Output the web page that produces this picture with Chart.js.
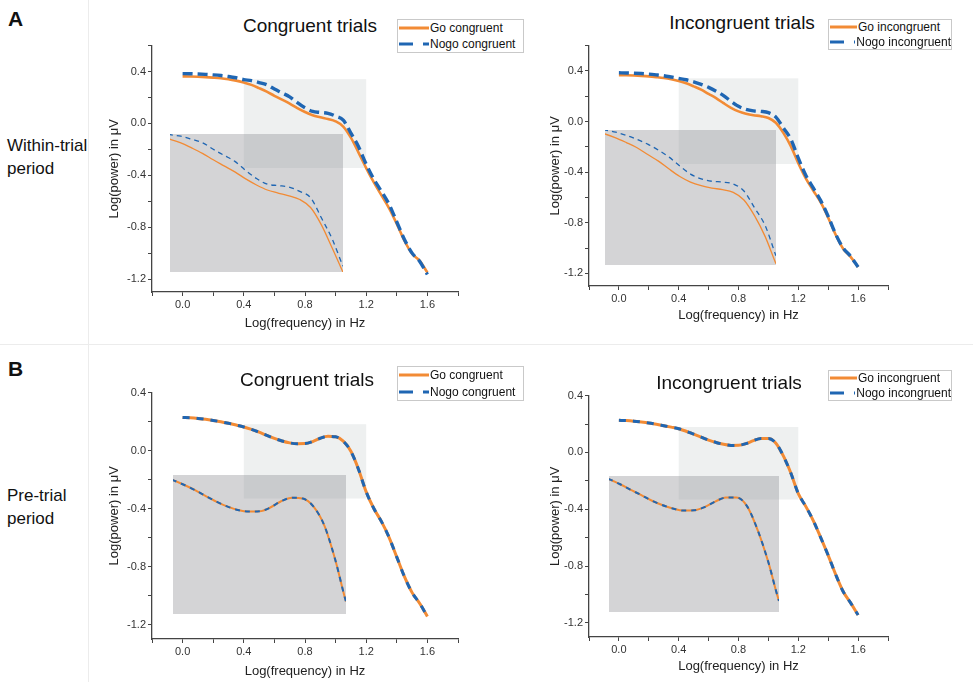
<!DOCTYPE html>
<html>
<head>
<meta charset="utf-8">
<script src="https://cdn.jsdelivr.net/npm/chart.js@4.4.1/dist/chart.umd.min.js"></script>
<style>
body { margin:0; width:973px; height:682px; overflow:hidden; background:#fff; font-family:"Liberation Sans", Arial, sans-serif; color:#111; }
#fig { position:relative; width:973px; height:682px; }
canvas { position:absolute; }
.txt { position:absolute; white-space:nowrap; }
.title { font-size:19px; transform:translate(-50%,-50%); }
.tag { font-weight:bold; font-size:21px; line-height:1; }
.side { font-size:17px; line-height:23px; }
.legend { position:absolute; border:1px solid #c9c9c9; background:#fff; font-size:12px; box-sizing:border-box; display:flex; flex-direction:column; justify-content:space-around; }
.legend .row { display:flex; align-items:center; white-space:nowrap; }
.legend svg { margin:0 1px 0 1px; }
.line { position:absolute; background:#ececec; }
</style>
</head>
<body>
<div id="fig">
  <div class="line" style="left:88px;top:0;width:1px;height:682px"></div>
  <div class="line" style="left:0;top:344px;width:973px;height:1px"></div>
  <div class="txt tag" style="left:8px;top:8px">A</div>
  <div class="txt tag" style="left:8px;top:358px">B</div>
  <div class="txt side" style="left:7px;top:134px">Within-trial<br>period</div>
  <div class="txt side" style="left:7px;top:484px">Pre-trial<br>period</div>
</div>
<script>
// x축 값 (Log frequency)
const logFreq = [0.00, 0.05, 0.10, 0.15, 0.20, 0.25, 0.30, 0.35, 0.40, 0.45, 0.50,
                 0.55, 0.60, 0.65, 0.70, 0.75, 0.80, 0.85, 0.90, 0.95, 1.00, 1.05,
                 1.10, 1.15, 1.20, 1.25, 1.30, 1.35, 1.40, 1.45, 1.50, 1.55, 1.60];

// A: within-trial period
const goCongWithin = [0.363, 0.362, 0.360, 0.357, 0.353, 0.348, 0.340, 0.330, 0.315, 0.297, 0.272,
                      0.245, 0.213, 0.183, 0.153, 0.118, 0.088, 0.063, 0.048, 0.034, 0.016, -0.024,
                      -0.110, -0.225, -0.345, -0.455, -0.555, -0.655, -0.775, -0.905, -1.005, -1.060, -1.150];
const nogoCongWithin = [0.384, 0.383, 0.381, 0.378, 0.374, 0.369, 0.362, 0.352, 0.338, 0.330, 0.315,
                        0.298, 0.265, 0.235, 0.205, 0.160, 0.120, 0.092, 0.085, 0.078, 0.056, 0.025,
                        -0.075, -0.180, -0.315, -0.430, -0.525, -0.625, -0.760, -0.895, -1.000, -1.065, -1.165];
const goIncongWithin = [0.367, 0.366, 0.364, 0.361, 0.357, 0.351, 0.344, 0.334, 0.321, 0.302, 0.278,
                        0.252, 0.218, 0.185, 0.145, 0.108, 0.080, 0.062, 0.050, 0.042, 0.028, -0.010,
                        -0.090, -0.195, -0.330, -0.450, -0.545, -0.640, -0.760, -0.895, -1.005, -1.070, -1.150];
const nogoIncongWithin = [0.385, 0.384, 0.382, 0.379, 0.375, 0.369, 0.362, 0.352, 0.341, 0.330, 0.314,
                          0.294, 0.270, 0.240, 0.205, 0.160, 0.120, 0.096, 0.084, 0.080, 0.070, 0.035,
                          -0.050, -0.140, -0.290, -0.425, -0.525, -0.625, -0.750, -0.890, -1.000, -1.065, -1.150];

// B: pre-trial period (go / nogo 거의 동일)
const goCongPre = [0.228, 0.226, 0.222, 0.216, 0.208, 0.199, 0.188, 0.176, 0.163, 0.146, 0.127,
                   0.105, 0.084, 0.066, 0.053, 0.047, 0.048, 0.062, 0.085, 0.098, 0.095, 0.065,
                   -0.005, -0.130, -0.285, -0.400, -0.490, -0.600, -0.735, -0.870, -0.980, -1.055, -1.145];
const nogoCongPre = [0.228, 0.226, 0.222, 0.216, 0.208, 0.199, 0.188, 0.176, 0.163, 0.146, 0.127,
                     0.105, 0.084, 0.066, 0.053, 0.047, 0.048, 0.062, 0.085, 0.098, 0.095, 0.065,
                     -0.005, -0.130, -0.285, -0.400, -0.490, -0.600, -0.735, -0.870, -0.980, -1.055, -1.145];
const goIncongPre = [0.226, 0.224, 0.220, 0.214, 0.207, 0.198, 0.188, 0.178, 0.167, 0.149, 0.128,
                     0.108, 0.087, 0.070, 0.057, 0.049, 0.050, 0.062, 0.083, 0.098, 0.098, 0.065,
                     -0.025, -0.145, -0.290, -0.380, -0.480, -0.600, -0.725, -0.860, -0.980, -1.060, -1.145];
const nogoIncongPre = [0.226, 0.224, 0.220, 0.214, 0.207, 0.198, 0.188, 0.178, 0.167, 0.149, 0.128,
                       0.108, 0.087, 0.070, 0.057, 0.049, 0.050, 0.062, 0.083, 0.098, 0.098, 0.065,
                       -0.025, -0.145, -0.290, -0.380, -0.480, -0.600, -0.725, -0.860, -0.980, -1.060, -1.145];

// 눈금 라벨
const xTicks = [0.0, 0.4, 0.8, 1.2, 1.6];
const yTicks = [-1.2, -0.8, -0.4, 0.0, 0.4];
// 확대 구간 (회색 박스)
const zoomX = [0.4, 1.2];

const ORANGE = '#f28b35';
const BLUE = '#1f66b3';
const FONT = '"Liberation Sans", Arial, sans-serif';

const panels = [
  { area: {l: 152, t: 45, r: 458, b: 292}, yMax: 0.6, go: goCongWithin, nogo: nogoCongWithin,
    names: ['Go congruent', 'Nogo congruent'], title: 'Congruent trials', titlePos: [310, 26],
    legend: {l: 397, t: 19, w: 127, h: 34, s: 30},
    zoomY: [-0.344, 0.341], inset: {x: [-0.083, 1.05], y: [-1.146, -0.08]},
    yTitlePad: 10, xTitlePad: 6, goW: 2.6, nogoW: 3.4, dash: [10, 5], insetW: 1.3, insetDash: [5, 4] },
  { area: {l: 589, t: 45, r: 888, b: 286}, yMax: 0.6, go: goIncongWithin, nogo: nogoIncongWithin,
    names: ['Go incongruent', 'Nogo incongruent'], title: 'Incongruent trials', titlePos: [742, 23],
    legend: {l: 828, t: 19, w: 124, h: 31, s: 27},
    zoomY: [-0.336, 0.341], inset: {x: [-0.0915, 1.049], y: [-1.136, -0.068]},
    yTitlePad: 14, xTitlePad: 8, goW: 2.6, nogoW: 3.4, dash: [10, 5], insetW: 1.3, insetDash: [5, 4] },
  { area: {l: 152, t: 392, r: 458, b: 639}, yMax: 0.4, go: goCongPre, nogo: nogoCongPre,
    names: ['Go congruent', 'Nogo congruent'], title: 'Congruent trials', titlePos: [307, 380],
    legend: {l: 397, t: 366, w: 127, h: 35, s: 30},
    zoomY: [-0.331, 0.182], inset: {x: [-0.061, 1.072], y: [-1.125, -0.166]},
    yTitlePad: 10, xTitlePad: 5, goW: 3, nogoW: 3, dash: [7, 7], insetW: 2, insetDash: [5, 5] },
  { area: {l: 589, t: 395, r: 888, b: 637}, yMax: 0.4, go: goIncongPre, nogo: nogoIncongPre,
    names: ['Go incongruent', 'Nogo incongruent'], title: 'Incongruent trials', titlePos: [729, 383],
    legend: {l: 828, t: 370, w: 124, h: 31, s: 27},
    zoomY: [-0.332, 0.179], inset: {x: [-0.065, 1.072], y: [-1.12, -0.165]},
    yTitlePad: 14, xTitlePad: 8, goW: 3, nogoW: 3, dash: [7, 7], insetW: 2, insetDash: [5, 5] }
];

const fig = document.getElementById('fig');

function pts(ys) {
  return logFreq.map((x, i) => ({x: x, y: ys[i]}));
}

function lineSets(p, inset) {
  const common = {pointRadius: 0, fill: false, cubicInterpolationMode: 'monotone'};
  return [
    Object.assign({label: p.names[0], data: pts(p.go), borderColor: ORANGE,
      borderWidth: inset ? p.insetW : p.goW, order: 1}, common),
    Object.assign({label: p.names[1], data: pts(p.nogo), borderColor: BLUE,
      borderWidth: inset ? p.insetW : p.nogoW, borderDash: inset ? p.insetDash : p.dash, order: 0}, common)
  ];
}

function onStep(v, step) {
  return Math.abs(v / step - Math.round(v / step)) < 1e-6;
}

function axis(horiz, min, max, labels, text, pad) {
  return {
    type: 'linear', position: horiz ? 'bottom' : 'left', min: min, max: max,
    afterBuildTicks: s => { s.ticks = s.ticks.filter(t => onStep(t.value, 0.2)); },
    afterFit: s => { if (horiz) s.height = 45; else s.width = 55; },
    ticks: {
      stepSize: 0.2, autoSkip: false, maxRotation: 0, padding: 2, color: '#333',
      font: {size: 11, family: FONT},
      callback: v => labels.some(t => Math.abs(t - v) < 1e-6) ? (Math.abs(v) < 1e-9 ? 0 : v).toFixed(1) : ''
    },
    grid: {drawOnChartArea: false, drawTicks: true, tickLength: 4, color: '#444', tickWidth: 1},
    border: {color: '#444', width: 1.3},
    // bottom 축은 padding.bottom, left 축은 padding.top 으로 위치가 정해짐
    title: {display: true, text: text, color: '#222', font: {size: 13, family: FONT},
            padding: horiz ? {top: 0, bottom: pad} : {top: pad, bottom: 0}}
  };
}

// 확대 영역 표시 박스
function zoomBox(p) {
  return {
    id: 'zoomBox',
    beforeDatasetsDraw(c) {
      const {ctx, scales: {x, y}} = c;
      const x0 = x.getPixelForValue(zoomX[0]), x1 = x.getPixelForValue(zoomX[1]);
      const y0 = y.getPixelForValue(p.zoomY[1]), y1 = y.getPixelForValue(p.zoomY[0]);
      ctx.save();
      ctx.fillStyle = '#eef0f0';
      ctx.fillRect(x0, y0, x1 - x0, y1 - y0);
      ctx.restore();
    }
  };
}

const insetBg = {
  id: 'insetBg',
  beforeDatasetsDraw(c) {
    const a = c.chartArea;
    c.ctx.save();
    c.ctx.fillStyle = 'rgba(140,140,145,0.375)';
    c.ctx.fillRect(a.left, a.top, a.right - a.left, a.bottom - a.top);
    c.ctx.restore();
  }
};

function legendBox(p) {
  const box = document.createElement('div');
  box.className = 'legend';
  Object.assign(box.style, {left: p.legend.l + 'px', top: p.legend.t + 'px',
    width: p.legend.w + 'px', height: p.legend.h + 'px'});
  const rows = [[ORANGE, '', p.names[0]], [BLUE, '14 10', p.names[1]]];
  rows.forEach(r => {
    const row = document.createElement('div');
    row.className = 'row';
    const s = p.legend.s;
    row.innerHTML = '<svg width="' + s + '" height="6"><line x1="0" y1="3" x2="' + s + '" y2="3" stroke="' + r[0] +
      '" stroke-width="3" stroke-dasharray="' + r[1] + '"/></svg><span>' + r[2] + '</span>';
    box.appendChild(row);
  });
  fig.appendChild(box);
}

panels.forEach(p => {
  const L = p.area.l - 55, T = p.area.t - 8;
  const cv = document.createElement('canvas');
  cv.width = p.area.r - p.area.l + 63;
  cv.height = p.area.b - p.area.t + 53;
  cv.style.left = L + 'px';
  cv.style.top = T + 'px';
  fig.appendChild(cv);

  const chart = new Chart(cv, {
    type: 'line',
    data: {datasets: lineSets(p, false)},
    options: {
      responsive: false,
      animation: false,
      layout: {padding: {top: 8, right: 8, left: 0, bottom: 0}},
      plugins: {legend: {display: false}, tooltip: {enabled: false}},
      scales: {
        x: axis(true, -0.2, 1.8, xTicks, 'Log(frequency) in Hz', p.xTitlePad),
        y: axis(false, -1.3, p.yMax, yTicks, 'Log(power) in \u03bcV', p.yTitlePad)
      }
    },
    plugins: [zoomBox(p)]
  });

  // 확대 inset (같은 데이터, 확대 구간만)
  const xs = chart.scales.x, ys = chart.scales.y;
  const il = xs.getPixelForValue(p.inset.x[0]), ir = xs.getPixelForValue(p.inset.x[1]);
  const it = ys.getPixelForValue(p.inset.y[1]), ib = ys.getPixelForValue(p.inset.y[0]);
  const ic = document.createElement('canvas');
  ic.width = Math.round(ir - il);
  ic.height = Math.round(ib - it);
  ic.style.left = Math.round(L + il) + 'px';
  ic.style.top = Math.round(T + it) + 'px';
  fig.appendChild(ic);
  new Chart(ic, {
    type: 'line',
    data: {datasets: lineSets(p, true)},
    options: {
      responsive: false,
      animation: false,
      layout: {padding: 0},
      plugins: {legend: {display: false}, tooltip: {enabled: false}},
      scales: {
        x: {type: 'linear', display: false, min: zoomX[0], max: zoomX[1]},
        y: {display: false, min: p.zoomY[0], max: p.zoomY[1]}
      }
    },
    plugins: [insetBg]
  });

  const t = document.createElement('div');
  t.className = 'txt title';
  t.style.left = p.titlePos[0] + 'px';
  t.style.top = p.titlePos[1] + 'px';
  t.textContent = p.title;
  fig.appendChild(t);

  legendBox(p);
});
</script>
</body>
</html>
